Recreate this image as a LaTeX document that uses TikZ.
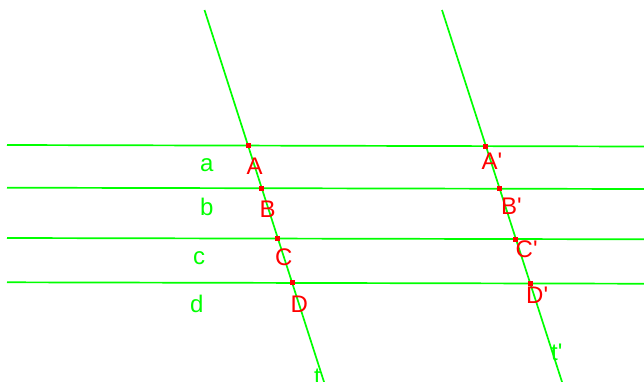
\documentclass[tikz,border=0pt]{standalone}
\usepackage{fontspec}
\newfontfamily\lab{Liberation Sans}
\begin{document}
\begin{tikzpicture}[x=1pt,y=-1pt,
  gline/.style={draw=green, line width=1.7pt},
  pt/.style={fill=red, minimum size=5pt, inner sep=0pt, shape=rectangle},
  lbl/.style={anchor=base west, inner sep=0pt, font=\lab\fontsize{24}{28}\selectfont},
  redlbl/.style={lbl, text=red},
  grnlbl/.style={lbl, text=green}]
\definecolor{green}{RGB}{0,255,0}
\definecolor{red}{RGB}{255,0,0}
\path[use as bounding box] (0,0) rectangle (644,381);
\clip (0,0) rectangle (644,381);
% horizontal lines
\coordinate (a1) at (7,145);   \coordinate (a2) at (644,146.5);
\coordinate (b1) at (7,187.7); \coordinate (b2) at (644,189);
\coordinate (c1) at (7,238);   \coordinate (c2) at (644,239.3);
\coordinate (d1) at (7,282.3); \coordinate (d2) at (644,283.7);
% transversals
\coordinate (t1) at (204.5,10); \coordinate (t2) at (325,385);
\coordinate (s1) at (442,10);   \coordinate (s2) at (563,385);
\draw[gline] (a1) -- (a2);
\draw[gline] (b1) -- (b2);
\draw[gline] (c1) -- (c2);
\draw[gline] (d1) -- (d2);
\draw[gline] (t1) -- (t2);
\draw[gline] (s1) -- (s2);
% intersection points
\node[pt] (A) at (intersection of a1--a2 and t1--t2) {};
\node[pt] (B) at (intersection of b1--b2 and t1--t2) {};
\node[pt] (C) at (intersection of c1--c2 and t1--t2) {};
\node[pt] (D) at (intersection of d1--d2 and t1--t2) {};
\node[pt] (A') at (intersection of a1--a2 and s1--s2) {};
\node[pt] (B') at (intersection of b1--b2 and s1--s2) {};
\node[pt] (C') at (intersection of c1--c2 and s1--s2) {};
\node[pt] (D') at (intersection of d1--d2 and s1--s2) {};
% labels
\node[redlbl] (lA) at (246.5,174) {A};
\node[redlbl] (lB) at (259.5,217) {B};
\node[redlbl] (lC) at (275,265) {C};
\node[redlbl] (lD) at (290.5,312.5) {D};
\node[redlbl] (lA') at (481.5,169.5) {A'};
\node[redlbl] (lB') at (501,214) {B'};
\node[redlbl] (lC') at (515.5,257) {C'};
\node[redlbl] (lD') at (526,303.5) {D'};
\node[grnlbl] (la) at (200,171) {a};
\node[grnlbl] (lb) at (200,215) {b};
\node[grnlbl] (lc) at (193,264) {c};
\node[grnlbl] (ld) at (190,312.5) {d};
\node[grnlbl] (lt) at (314,384) {t};
\node[grnlbl] (lt') at (551,360) {t'};
\end{tikzpicture}
\end{document}
